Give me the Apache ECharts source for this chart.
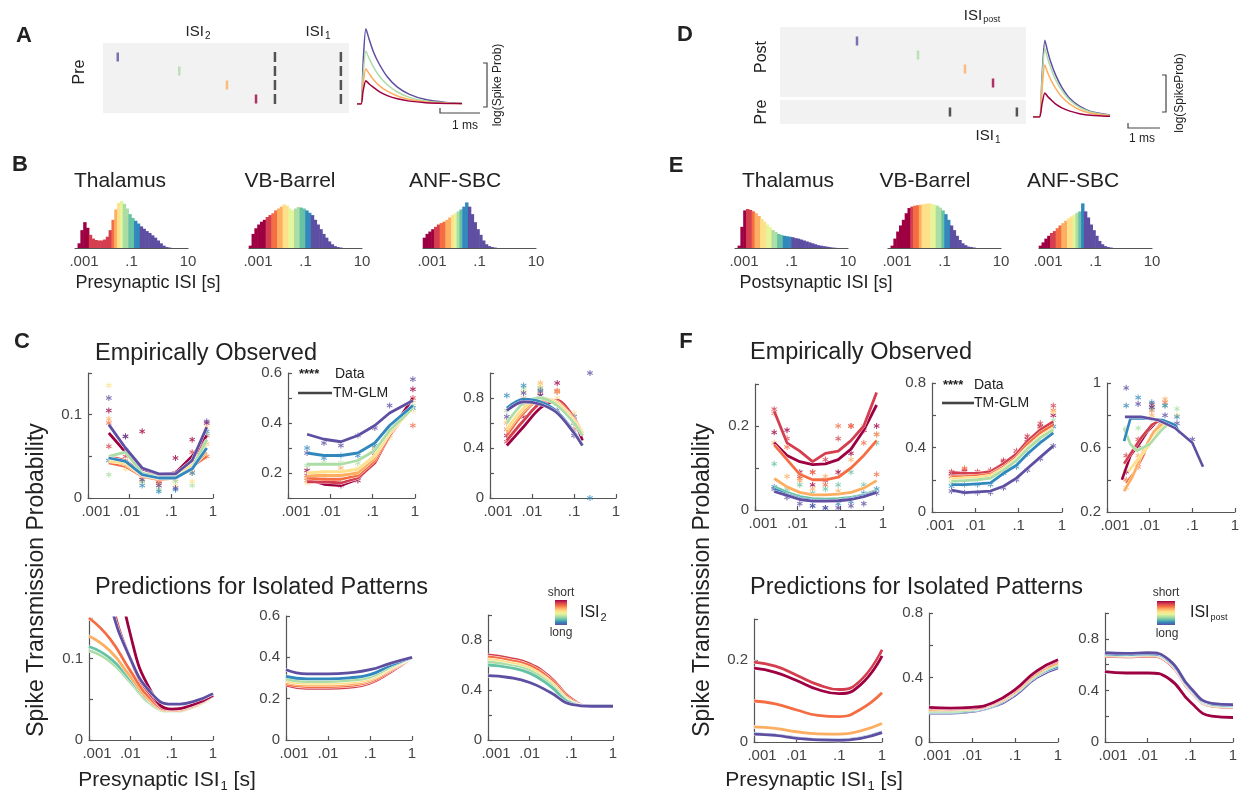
<!DOCTYPE html>
<html>
<head>
<meta charset="utf-8">
<script src="https://cdn.jsdelivr.net/npm/echarts@6/dist/echarts.min.js"></script>
<style>html,body{margin:0;background:#fff}#chart{width:1248px;height:795px}</style>
</head>
<body>
<div id="chart"></div>
<script>
// palette: short ISI (red) -> long ISI (purple)
var spectral = ['#9e0142','#d53e4f','#f46d43','#fdae61','#fee08b','#e6f598','#abdda4','#66c2a5','#3288bd','#5e4fa2'];
var FONT = '"Liberation Sans", Arial, Helvetica, sans-serif';
var AX = '#555', LAB = '#444', TXT = '#222';

// ---------- A / D : spike rasters and PSP shapes ----------
var rasterRows = [1, 2, 3, 4];
var aSpikeT = [6, 31, 50.4, 62.2];
var dSpikeT = [31.3, 56.1, 75.2, 86.6];
var spikeColors = [9, 6, 3, 0];
var aPreT = [69.9, 96.7];
var dPreT = [69.1, 96.3];

var pspTA = [0, 0.1, 0.15, 0.22, 0.3, 0.4, 0.55, 0.75, 1.0, 1.3, 1.7, 2.2, 2.6];
var pspA = [
  [0, 0, 0.5, 0.94, 0.81, 0.66, 0.5, 0.34, 0.21, 0.12, 0.055, 0.02, 0.01],
  [0, 0, 0.35, 0.66, 0.57, 0.47, 0.35, 0.24, 0.15, 0.083, 0.038, 0.015, 0.007],
  [0, 0, 0.24, 0.44, 0.38, 0.31, 0.23, 0.16, 0.1, 0.055, 0.026, 0.01, 0.005],
  [0, 0, 0.16, 0.29, 0.25, 0.21, 0.155, 0.105, 0.065, 0.036, 0.017, 0.007, 0.003]
];
var pspTD = [0, 0.2, 0.28, 0.37, 0.45, 0.55, 0.7, 0.9, 1.15, 1.45, 1.8, 2.4];
var pspD = [
  [0, 0, 0.5, 0.96, 0.83, 0.69, 0.53, 0.37, 0.23, 0.135, 0.07, 0.024],
  [0, 0, 0.45, 0.86, 0.74, 0.62, 0.47, 0.33, 0.21, 0.12, 0.064, 0.021],
  [0, 0, 0.34, 0.65, 0.56, 0.47, 0.36, 0.25, 0.16, 0.09, 0.048, 0.016],
  [0, 0, 0.16, 0.3, 0.26, 0.22, 0.165, 0.115, 0.073, 0.042, 0.022, 0.008]
];

// ---------- B / E : ISI histograms (log10 ISI bins) ----------
var histX = [-2.95,-2.85,-2.75,-2.65,-2.55,-2.45,-2.35,-2.25,-2.15,-2.05,
             -1.95,-1.85,-1.75,-1.65,-1.55,-1.45,-1.35,-1.25,-1.15,-1.05,
             -0.95,-0.85,-0.75,-0.65,-0.55,-0.45,-0.35,-0.25,-0.15,-0.05,
             0.05,0.15,0.25,0.35,0.45,0.55,0.65,0.75,0.85,0.95];
var bThal = [0,0.1,0.38,0.55,0.43,0.28,0.2,0.17,0.16,0.16, 0.18,0.24,0.38,0.6,0.82,0.96,1.0,0.94,0.84,0.72,
             0.64,0.58,0.52,0.46,0.41,0.36,0.32,0.27,0.22,0.16, 0.1,0.05,0.02,0.01,0,0,0,0,0,0];
var bVB   = [0.05,0.3,0.42,0.5,0.56,0.6,0.66,0.7,0.74,0.8, 0.84,0.88,0.93,0.9,0.84,0.8,0.84,0.87,0.86,0.84,
             0.8,0.75,0.7,0.6,0.5,0.4,0.3,0.22,0.14,0.08, 0.04,0.02,0.01,0,0,0,0,0,0,0];
var bANF  = [0.22,0.3,0.35,0.4,0.45,0.5,0.53,0.56,0.6,0.65, 0.7,0.74,0.78,0.82,0.88,0.97,0.88,0.72,0.55,0.4,
             0.28,0.16,0.08,0.04,0.02,0.01,0,0,0,0, 0,0,0,0,0,0,0,0,0,0];
var eThal = [0,0.05,0.45,0.8,0.83,0.81,0.78,0.74,0.68,0.62, 0.56,0.5,0.44,0.38,0.34,0.3,0.28,0.26,0.25,0.24,
             0.23,0.21,0.2,0.18,0.16,0.14,0.12,0.1,0.08,0.06, 0.05,0.04,0.03,0.02,0.01,0.005,0,0,0,0];
var eVB   = [0,0.05,0.2,0.35,0.48,0.6,0.74,0.85,0.88,0.9, 0.91,0.92,0.93,0.94,0.95,0.94,0.92,0.9,0.86,0.8,
             0.72,0.6,0.48,0.38,0.26,0.17,0.1,0.06,0.03,0.02, 0.01,0,0,0,0,0,0,0,0,0];
var eANF  = [0.05,0.12,0.2,0.26,0.32,0.36,0.42,0.48,0.53,0.58, 0.63,0.67,0.71,0.75,0.78,0.95,0.78,0.65,0.5,0.38,
             0.26,0.15,0.08,0.04,0.02,0.01,0,0,0,0, 0,0,0,0,0,0,0,0,0,0];
// colour band boundaries (log10 s)
var bThalEdges = [-2.5,-1.7,-1.6,-1.5,-1.4,-1.3,-1.1,-0.9,-0.7];
var bVBEdges   = [-2.4,-2.2,-2.0,-1.8,-1.6,-1.4,-1.2,-1.0,-0.8];
var bANFEdges  = [-2.6,-2.4,-2.2,-2.0,-1.9,-1.8,-1.7,-1.6,-1.4];
var eThalEdges = [-2.6,-2.4,-2.3,-2.1,-1.9,-1.7,-1.5,-1.3,-1.0];
var eVBEdges   = [-2.2,-2.1,-1.9,-1.8,-1.5,-1.3,-1.1,-1.0,-0.8];
var eANFEdges  = [-2.6,-2.4,-2.2,-2.0,-1.8,-1.7,-1.6,-1.5,-1.4];

// ---------- C : empirically observed (presynaptic ISI2 groups) ----------
var xC1 = [-2.5,-2.1,-1.7,-1.3,-0.9,-0.5,-0.15];
var c1Colors = [0,1,2,3,4,6,8,9];
var c1Lines = [
  [0.078,0.055,0.035,0.028,0.03,0.05,0.075],
  [0.05,0.045,0.03,0.026,0.028,0.045,0.07],
  [0.042,0.038,0.026,0.022,0.024,0.038,0.05],
  [0.046,0.04,0.027,0.023,0.024,0.038,0.055],
  [0.044,0.042,0.028,0.024,0.025,0.04,0.065],
  [0.05,0.055,0.03,0.025,0.025,0.036,0.07],
  [0.048,0.044,0.028,0.024,0.024,0.035,0.06],
  [0.088,0.06,0.036,0.029,0.029,0.045,0.085]
];
var c1Dots = [
  [0.105,0.074,0.08,0.02,0.048,0.07,0.09],
  [0.062,0.05,0.025,0.02,0.03,0.055,0.075],
  [0.09,0.04,0.022,0.018,0.025,0.035,0.05],
  [0.095,0.045,0.025,0.015,0.022,0.03,0.065],
  [0.135,0.035,0.02,0.022,0.015,0.02,0.085],
  [0.028,0.045,0.02,0.01,0.02,0.015,0.075],
  [0.045,0.058,0.015,0.008,0.01,0.03,0.08],
  [0.12,0.074,0.022,0.015,0.012,0.04,0.092]
];
var xC2 = [-2.55,-2.15,-1.75,-1.35,-0.95,-0.6,-0.05];
var c2Colors = [0,1,2,3,4,6,8,9];
var c2Lines = [
  [0.175,0.155,0.15,0.175,0.25,0.36,0.5],
  [0.165,0.165,0.16,0.18,0.24,0.35,0.47],
  [0.18,0.175,0.175,0.19,0.25,0.35,0.47],
  [0.19,0.19,0.19,0.2,0.26,0.36,0.46],
  [0.2,0.205,0.205,0.215,0.27,0.36,0.46],
  [0.235,0.235,0.235,0.25,0.29,0.37,0.46],
  [0.28,0.27,0.27,0.28,0.32,0.39,0.47],
  [0.355,0.335,0.325,0.35,0.39,0.44,0.49]
];
var c2Dots = [
  [0.21,0.17,0.15,0.17,0.29,0.36,0.535],
  [0.19,0.16,0.17,0.19,0.28,0.36,0.5],
  [0.17,0.18,0.19,0.2,0.27,0.37,0.39],
  [0.18,0.2,0.22,0.21,0.3,0.37,0.49],
  [0.16,0.19,0.2,0.22,0.25,0.34,0.45],
  [0.23,0.24,0.24,0.24,0.3,0.35,0.47],
  [0.3,0.26,0.27,0.27,0.31,0.38,0.46],
  [0.28,0.32,0.31,0.35,0.38,0.47,0.575]
];
var xC3 = [-2.6,-2.2,-1.8,-1.4,-1.0,-0.8];
var xC3Dots = [-2.6,-2.2,-1.8,-1.4,-1.0,-0.62];
var c3Colors = [0,1,2,3,4,6,8,9];
var c3Lines = [
  [0.42,0.57,0.72,0.78,0.62,0.46],
  [0.46,0.62,0.76,0.78,0.64,0.5],
  [0.5,0.68,0.79,0.77,0.63,0.52],
  [0.53,0.7,0.79,0.76,0.62,0.52],
  [0.55,0.72,0.8,0.76,0.62,0.52],
  [0.6,0.76,0.8,0.74,0.6,0.5],
  [0.72,0.79,0.77,0.69,0.53,0.42],
  [0.7,0.77,0.75,0.68,0.52,0.42]
];
var c3Dots = [
  [0.5,0.65,0.82,0.92,0.6,null],
  [0.45,0.7,0.85,0.85,0.62,null],
  [0.55,0.75,0.88,0.86,0.55,null],
  [0.6,0.8,0.92,0.85,0.65,null],
  [0.62,0.85,0.9,0.8,0.68,null],
  [0.7,0.88,0.88,0.78,0.6,null],
  [0.82,0.9,0.86,0.75,0.65,0.0],
  [0.65,0.84,0.82,0.7,0.5,1.0]
];

// ---------- C : predictions for isolated patterns ----------
var xPred = [-3,-2.5,-2,-1.5,-1,-0.5,0];
var c4Colors = [6,7,3,2,1,0,9];
var c4Lines = [
  [0.11,0.097,0.071,0.044,0.035,0.04,0.054],
  [0.115,0.101,0.074,0.046,0.036,0.041,0.055],
  [0.128,0.11,0.078,0.047,0.036,0.041,0.054],
  [0.15,0.125,0.085,0.05,0.037,0.042,0.055],
  [0.3,0.18,0.1,0.055,0.038,0.043,0.055],
  [0.4,0.26,0.13,0.06,0.038,0.043,0.055],
  [0.28,0.17,0.1,0.058,0.044,0.047,0.057]
];
var c5Colors = [1,2,3,4,6,8,9];
var c5Lines = [
  [0.265,0.25,0.25,0.255,0.275,0.33,0.4],
  [0.272,0.258,0.258,0.263,0.282,0.336,0.4],
  [0.279,0.266,0.266,0.271,0.289,0.342,0.4],
  [0.286,0.274,0.274,0.279,0.296,0.348,0.4],
  [0.295,0.283,0.283,0.288,0.304,0.354,0.4],
  [0.308,0.296,0.296,0.301,0.316,0.362,0.4],
  [0.34,0.32,0.32,0.325,0.34,0.372,0.4]
];
var c6Colors = [1,2,4,6,7,9];
var c6Lines = [
  [0.68,0.655,0.61,0.5,0.33,0.27,0.27],
  [0.665,0.64,0.595,0.485,0.32,0.27,0.27],
  [0.645,0.62,0.575,0.465,0.31,0.27,0.27],
  [0.625,0.6,0.555,0.445,0.3,0.27,0.27],
  [0.6,0.58,0.535,0.43,0.295,0.27,0.27],
  [0.515,0.5,0.46,0.38,0.285,0.27,0.27]
];

// ---------- F : empirically observed (postsynaptic ISI groups) ----------
var xF1 = [-2.55,-2.25,-1.95,-1.65,-1.35,-1.05,-0.75,-0.45,-0.15];
var f1Colors = [0,1,2,3,7,8,9];
var f1Lines = [
  [0.16,0.13,0.115,0.108,0.11,0.12,0.145,0.19,0.25],
  [0.235,0.16,0.14,0.115,0.135,0.14,0.165,0.2,0.28],
  [0.155,0.12,0.085,0.072,0.072,0.078,0.1,0.13,0.165],
  [0.075,0.055,0.042,0.036,0.036,0.038,0.042,0.052,0.07],
  [0.055,0.042,0.032,0.027,0.026,0.027,0.03,0.036,0.047],
  [0.05,0.037,0.027,0.023,0.022,0.023,0.027,0.034,0.044],
  [0.044,0.035,0.025,0.021,0.021,0.022,0.025,0.032,0.042]
];
var f1Dots = [
  [0.185,0.19,0.09,0.06,0.07,0.09,0.135,0.19,0.2],
  [0.24,0.17,0.08,0.09,0.12,0.17,0.2,0.19,0.18],
  [0.23,0.15,0.075,0.09,0.06,0.2,0.2,0.16,0.085],
  [0.16,0.08,0.07,0.05,0.08,0.045,0.12,0.2,0.18],
  [0.11,0.05,0.06,0.04,0.05,0.06,0.09,0.06,0.16],
  [0.055,0.04,0.03,0.01,0.005,0.015,0.02,0.04,0.05],
  [0.05,0.03,0.015,0.01,0.005,0.005,0.01,0.015,0.04]
];
var xF2 = [-2.55,-2.25,-1.95,-1.65,-1.35,-1.05,-0.8,-0.5,-0.2];
var f2Colors = [0,1,2,4,6,8,9];
var f2Lines = [
  [0.235,0.23,0.23,0.24,0.29,0.35,0.43,0.5,0.55],
  [0.245,0.24,0.24,0.25,0.3,0.36,0.44,0.51,0.56],
  [0.22,0.22,0.225,0.235,0.28,0.34,0.42,0.49,0.54],
  [0.205,0.21,0.215,0.225,0.27,0.33,0.4,0.47,0.52],
  [0.19,0.195,0.2,0.21,0.26,0.32,0.39,0.46,0.51],
  [0.17,0.17,0.175,0.18,0.24,0.29,0.36,0.43,0.49],
  [0.135,0.12,0.125,0.13,0.16,0.21,0.27,0.34,0.41]
];
var f2Dots = [
  [0.24,0.25,0.24,0.25,0.31,0.36,0.45,0.53,0.6],
  [0.25,0.26,0.25,0.26,0.32,0.38,0.47,0.55,0.66],
  [0.22,0.27,0.24,0.25,0.29,0.35,0.43,0.52,0.63],
  [0.2,0.22,0.23,0.24,0.28,0.33,0.41,0.5,0.62],
  [0.18,0.2,0.21,0.22,0.26,0.31,0.39,0.47,0.57],
  [0.16,0.17,0.17,0.17,0.24,0.28,0.36,0.44,0.53],
  [0.13,0.12,0.12,0.12,0.15,0.2,0.26,0.33,0.41]
];
var f3Colors = [0,1,2,3,4,6,8,9];
var f3Lines = [
  [[-2.65,0.4],[-2.45,0.55],[-2.25,0.62],[-2.05,0.7],[-1.8,0.77]],
  [[-2.6,0.5],[-2.4,0.58],[-2.2,0.66],[-1.95,0.74],[-1.75,0.77]],
  [[-2.55,0.38],[-2.35,0.45],[-2.15,0.55],[-1.95,0.68],[-1.7,0.76]],
  [[-2.6,0.33],[-2.4,0.42],[-2.15,0.58],[-1.9,0.7],[-1.65,0.76]],
  [[-2.5,0.45],[-2.3,0.52],[-2.05,0.6],[-1.8,0.7],[-1.6,0.75]],
  [[-2.6,0.72],[-2.45,0.62],[-2.3,0.58],[-2.0,0.62],[-1.75,0.7],[-1.55,0.75]],
  [[-2.6,0.64],[-2.45,0.78],[-2.1,0.78],[-1.7,0.77],[-1.4,0.74],[-1.3,0.69]],
  [[-2.58,0.79],[-2.2,0.79],[-1.8,0.77],[-1.4,0.72],[-1.0,0.63],[-0.75,0.48]]
];
var xF3Dots = [-2.55,-2.27,-1.95,-1.64,-1.36,-1.0];
var f3Dots = [
  [0.45,0.6,0.85,null,null,null],
  [0.55,0.65,0.87,null,null,null],
  [0.4,0.48,0.83,0.88,null,null],
  [0.35,0.55,0.8,0.9,null,null],
  [0.5,0.62,0.78,0.86,0.8,null],
  [0.72,0.72,0.84,0.86,0.84,null],
  [0.86,0.91,0.88,0.86,0.79,null],
  [0.97,0.87,0.85,0.8,0.75,0.65]
];

// ---------- F : predictions ----------
var f4Colors = [1,0,2,3,8,9];
var f4Lines = [
  [0.195,0.185,0.163,0.14,0.128,0.15,0.225],
  [0.18,0.17,0.15,0.128,0.118,0.14,0.21],
  [0.1,0.093,0.078,0.065,0.062,0.08,0.12],
  [0.037,0.033,0.025,0.02,0.019,0.027,0.045],
  [0.02,0.017,0.01,0.006,0.005,0.01,0.024],
  [0.019,0.016,0.009,0.005,0.004,0.009,0.023]
];
var f5Colors = [9,8,6,3,1,0];
var f5Lines = [
  [0.18,0.18,0.19,0.22,0.29,0.4,0.46],
  [0.185,0.185,0.195,0.225,0.3,0.41,0.47],
  [0.19,0.19,0.2,0.23,0.305,0.415,0.48],
  [0.2,0.2,0.205,0.235,0.31,0.425,0.49],
  [0.21,0.205,0.21,0.24,0.32,0.435,0.505],
  [0.215,0.21,0.215,0.245,0.325,0.44,0.51]
];
var f6Colors = [1,3,6,8,9,0];
var f6Lines = [
  [0.665,0.66,0.665,0.61,0.395,0.278,0.268],
  [0.672,0.667,0.672,0.617,0.402,0.283,0.273],
  [0.678,0.673,0.678,0.623,0.408,0.288,0.278],
  [0.684,0.679,0.684,0.629,0.414,0.294,0.284],
  [0.692,0.687,0.692,0.637,0.42,0.3,0.29],
  [0.545,0.535,0.535,0.49,0.31,0.2,0.19]
];

// ================= build =================
var decLabel = {'-3': '{f|.001}', '-2': '.01', '-1': '.1', '0': '1', '1': '10'};
var STAR = 'path://M4.2,0L5.8,0L5.8,3.6L8.9,1.8L9.7,3.2L6.6,5L9.7,6.8L8.9,8.2L5.8,6.4L5.8,10L4.2,10L4.2,6.4L1.1,8.2L0.3,6.8L3.4,5L0.3,3.2L1.1,1.8L4.2,3.6Z';
var grids = [], xAxes = [], yAxes = [], series = [];

function addGrid(box, bg) {
  grids.push({left: box[0], top: box[1], width: box[2], height: box[3], containLabel: false,
    outerBoundsMode: 'none', show: !!bg, backgroundColor: bg || 'transparent', borderWidth: 0});
  return grids.length - 1;
}
function hiddenAxes(gi, xr, yr, inv) {
  xAxes.push({gridIndex: gi, type: 'value', min: xr[0], max: xr[1], show: false});
  yAxes.push({gridIndex: gi, type: 'value', min: yr[0], max: yr[1], inverse: !!inv, show: false});
}
function labelStyle(shift) {
  var s = {color: LAB, fontSize: 15, fontFamily: FONT, margin: 6};
  if (shift) s.rich = {f: {color: LAB, fontSize: 15, fontFamily: FONT, padding: [0, 0, 0, shift]}};
  return s;
}
function plotAxes(gi, yMin, yMax, yStep, yLabs) {
  var xl = labelStyle(16);
  xl.formatter = function (v) { return decLabel[Math.round(v)] || ''; };
  var yl = labelStyle();
  yl.formatter = function (v) {
    var r = Math.round(v * 100) / 100;
    return yLabs.indexOf(r) >= 0 ? String(r) : '';
  };
  var line = {show: true, onZero: false, lineStyle: {color: AX, width: 1.2}};
  var tick = {show: true, inside: true, length: 4, lineStyle: {color: AX, width: 1.2}};
  xAxes.push({gridIndex: gi, type: 'value', min: -3, max: 0, interval: 1, axisLine: line, axisTick: tick,
    splitLine: {show: false}, axisLabel: xl});
  yAxes.push({gridIndex: gi, type: 'value', min: yMin, max: yMax, interval: yStep, axisLine: line, axisTick: tick,
    splitLine: {show: false}, axisLabel: yl});
}
function histAxes(gi) {
  var xl = labelStyle(18);
  xl.formatter = function (v) {
    var k = Math.round(v);
    return (k === -3 || k === -1 || k === 1) ? decLabel[k] : '';
  };
  xAxes.push({gridIndex: gi, type: 'value', min: -3, max: 1, interval: 1,
    axisLine: {show: true, onZero: false, lineStyle: {color: AX, width: 1.2}},
    axisTick: {show: false}, splitLine: {show: false}, axisLabel: xl});
  yAxes.push({gridIndex: gi, type: 'value', min: 0, max: 1, show: false});
}
function addHist(gi, vals, edges) {
  series.push({type: 'bar', xAxisIndex: gi, yAxisIndex: gi, barWidth: 3.4, silent: true,
    data: histX.map(function (x, i) {
      var b = 0;
      edges.forEach(function (e) { if (x > e) b++; });
      return {value: [x, vals[i]], itemStyle: {color: spectral[b]}};
    })});
}
function addLines(gi, xs, lines, colors, w, smooth, halo) {
  lines.forEach(function (ys, k) {
    var pts = xs ? ys.map(function (y, i) { return [xs[i], y]; }) : ys;
    series.push({type: 'line', xAxisIndex: gi, yAxisIndex: gi, data: pts, showSymbol: false, smooth: smooth,
      silent: true, z: 3, lineStyle: {color: '#ffffff', width: w + halo}});
    series.push({type: 'line', xAxisIndex: gi, yAxisIndex: gi, data: pts, showSymbol: false, smooth: smooth,
      silent: true, z: 3, lineStyle: {color: spectral[colors[k]], width: w}});
  });
}
function addDots(gi, xs, dots, colors) {
  dots.forEach(function (ys, k) {
    var pts = [];
    ys.forEach(function (y, i) { if (y !== null) pts.push([xs[i], y]); });
    series.push({type: 'scatter', xAxisIndex: gi, yAxisIndex: gi, data: pts, symbol: STAR, symbolSize: 6,
      silent: true, z: 2, itemStyle: {color: spectral[colors[k]], opacity: 0.8}});
  });
}
function addRaster(gi, times, rows, colorOf, size) {
  var pts = [];
  rows.forEach(function (r, ri) {
    times.forEach(function (t, ti) {
      if (colorOf === null) pts.push({value: [t, r], itemStyle: {color: '#2a2a2a'}});
      else if (ti === ri) pts.push({value: [t, r], itemStyle: {color: spectral[colorOf[ri]]}});
    });
  });
  series.push({type: 'scatter', xAxisIndex: gi, yAxisIndex: gi, symbol: 'rect', symbolSize: size,
    silent: true, data: pts});
}
function addPsp(gi, ts, curves) {
  curves.forEach(function (ys, k) {
    series.push({type: 'line', xAxisIndex: gi, yAxisIndex: gi, showSymbol: false, smooth: 0.25, silent: true,
      data: ys.map(function (y, i) { return [ts[i], y]; }),
      lineStyle: {color: spectral[spikeColors[k]], width: 1.5}});
  });
}

// ---- panel A ----
var gA = addGrid([103, 43, 246, 70], '#f2f2f2');
hiddenAxes(gA, [0, 100], [0, 5], true);
addRaster(gA, aSpikeT, rasterRows, spikeColors, [2.5, 9]);
addRaster(gA, aPreT, rasterRows, null, [2.5, 10]);
var gAp = addGrid([357, 24, 105, 80]);
hiddenAxes(gAp, [0, 2.6], [0, 1]);
addPsp(gAp, pspTA, pspA);

// ---- panel D ----
var gDpost = addGrid([780, 27, 246, 70], '#f2f2f2');
hiddenAxes(gDpost, [0, 100], [0, 5], true);
addRaster(gDpost, dSpikeT, rasterRows, spikeColors, [2.5, 9]);
var gDpre = addGrid([780, 100, 246, 24], '#f2f2f2');
hiddenAxes(gDpre, [0, 100], [0, 2], true);
addRaster(gDpre, dPreT, [1], null, [2.5, 9]);
var gDp = addGrid([1033, 37, 77, 80]);
hiddenAxes(gDp, [0, 2.4], [0, 1]);
addPsp(gDp, pspTD, pspD);

// ---- panels B / E ----
[[75, bThal, bThalEdges], [249, bVB, bVBEdges], [423, bANF, bANFEdges],
 [735, eThal, eThalEdges], [888, eVB, eVBEdges], [1039, eANF, eANFEdges]].forEach(function (h) {
  var gi = addGrid([h[0], 201, 113, 47]);
  histAxes(gi);
  addHist(gi, h[1], h[2]);
});

// ---- panel C ----
var g;
g = addGrid([88, 373, 125, 125]); plotAxes(g, 0, 0.15, 0.05, [0, 0.1]);
addDots(g, xC1, c1Dots, c1Colors); addLines(g, xC1, c1Lines, c1Colors, 2.8, false, 0.6);
g = addGrid([288, 373, 127, 125]); plotAxes(g, 0.1, 0.6, 0.1, [0.2, 0.4, 0.6]);
addDots(g, xC2, c2Dots, c2Colors); addLines(g, xC2, c2Lines, c2Colors, 2.8, false, 0.6);
g = addGrid([490, 373, 126, 125]); plotAxes(g, 0, 1, 0.2, [0, 0.4, 0.8]);
addDots(g, xC3Dots, c3Dots, c3Colors); addLines(g, xC3, c3Lines, c3Colors, 2.8, 0.3, 0.6);
g = addGrid([89, 618, 124, 122]); plotAxes(g, 0, 0.15, 0.05, [0, 0.1]);
addLines(g, xPred, c4Lines, c4Colors, 2.8, true, 0.8);
g = addGrid([286, 616, 126, 124]); plotAxes(g, 0, 0.6, 0.2, [0, 0.2, 0.4, 0.6]);
addLines(g, xPred, c5Lines, c5Colors, 2.8, true, 0.8);
g = addGrid([488, 615, 125, 125]); plotAxes(g, 0, 1, 0.2, [0, 0.4, 0.8]);
addLines(g, xPred, c6Lines, c6Colors, 2.8, true, 0.8);

// ---- panel F ----
g = addGrid([755, 384, 128, 126]); plotAxes(g, 0, 0.3, 0.1, [0, 0.2]);
addDots(g, xF1, f1Dots, f1Colors); addLines(g, xF1, f1Lines, f1Colors, 2.8, false, 0.6);
g = addGrid([932, 383, 130, 129]); plotAxes(g, 0, 0.8, 0.2, [0, 0.4, 0.8]);
addDots(g, xF2, f2Dots, f2Colors); addLines(g, xF2, f2Lines, f2Colors, 2.8, false, 0.6);
g = addGrid([1107, 383, 128, 129]); plotAxes(g, 0.2, 1, 0.2, [0.2, 0.6, 1]);
addDots(g, xF3Dots, f3Dots, f3Colors); addLines(g, null, f3Lines, f3Colors, 2.6, false, 0.6);
g = addGrid([754, 619, 128, 123]); plotAxes(g, 0, 0.3, 0.1, [0, 0.2]);
addLines(g, xPred, f4Lines, f4Colors, 2.8, true, 0.8);
g = addGrid([929, 613, 129, 129]); plotAxes(g, 0, 0.8, 0.2, [0, 0.4, 0.8]);
addLines(g, xPred, f5Lines, f5Colors, 2.8, true, 0.8);
g = addGrid([1105, 613, 128, 129]); plotAxes(g, 0, 1, 0.2, [0, 0.4, 0.8]);
addLines(g, xPred, f6Lines, f6Colors, 2.8, true, 0.8);

// ---- text and decorations ----
function txt(x, y, text, size, opt) {
  opt = opt || {};
  var al = opt.align || 'center';
  return {type: 'text', x: x, y: y, rotation: opt.rot || 0, silent: true, z: 10,
    style: {text: text, fontSize: size, fontFamily: FONT, fontWeight: opt.bold ? 'bold' : 'normal',
      fill: opt.color || TXT, align: al, verticalAlign: 'middle', textAlign: al, textVerticalAlign: 'middle',
      rich: opt.rich}};
}
function subRich(big, small) {
  return {
    m: {fontSize: big, fontFamily: FONT, fill: TXT, color: TXT},
    s: {fontSize: small, fontFamily: FONT, fill: TXT, color: TXT, padding: [Math.round(big * 0.55), 0, 0, 1]}
  };
}
function poly(points, w) {
  return {type: 'polyline', silent: true, z: 10, shape: {points: points},
    style: {stroke: '#444', lineWidth: w || 1.2, fill: null}};
}
var barStops = spectral.map(function (c, i) { return {offset: i / 9, color: c}; });
function colorBar(x, y, w, h) {
  return {type: 'rect', silent: true, z: 10, shape: {x: x, y: y, width: w, height: h},
    style: {fill: new echarts.graphic.LinearGradient(0, 0, 0, 1, barStops)}};
}

var gfx = [
  // A
  txt(24, 36, 'A', 22, {bold: true}),
  txt(198, 32, '{m|ISI}{s|2}', 15, {rich: subRich(15, 10)}),
  txt(318, 32, '{m|ISI}{s|1}', 15, {rich: subRich(15, 10)}),
  txt(80, 72, 'Pre', 16, {rot: Math.PI / 2}),
  poly([[440, 108], [440, 113], [480, 113]]),
  txt(465, 126, '1 ms', 12),
  poly([[483, 63], [487, 63], [487, 107], [483, 107]]),
  txt(498, 85, 'log(Spike Prob)', 12, {rot: Math.PI / 2}),
  // D
  txt(685, 35, 'D', 22, {bold: true}),
  txt(982, 16, '{m|ISI}{s|post}', 15, {rich: subRich(15, 9)}),
  txt(762, 57, 'Post', 16, {rot: Math.PI / 2}),
  txt(762, 112, 'Pre', 16, {rot: Math.PI / 2}),
  txt(988, 136, '{m|ISI}{s|1}', 15, {rich: subRich(15, 10)}),
  poly([[1128, 123], [1128, 128], [1160, 128]]),
  txt(1142, 139, '1 ms', 12),
  poly([[1162, 75], [1166, 75], [1166, 112], [1162, 112]]),
  txt(1180, 93, 'log(SpikeProb)', 12, {rot: Math.PI / 2}),
  // B / E
  txt(20, 165, 'B', 22, {bold: true}),
  txt(120, 181, 'Thalamus', 21),
  txt(290, 181, 'VB-Barrel', 21),
  txt(455, 181, 'ANF-SBC', 21),
  txt(148, 283, 'Presynaptic ISI [s]', 18),
  txt(676, 166, 'E', 22, {bold: true}),
  txt(788, 181, 'Thalamus', 21),
  txt(925, 181, 'VB-Barrel', 21),
  txt(1073, 181, 'ANF-SBC', 21),
  txt(816, 283, 'Postsynaptic ISI [s]', 18),
  // C
  txt(22, 342, 'C', 22, {bold: true}),
  txt(95, 354, 'Empirically Observed', 23.5, {align: 'left'}),
  txt(95, 588, 'Predictions for Isolated Patterns', 23.5, {align: 'left'}),
  txt(37, 580, 'Spike Transmission Probability', 23, {rot: Math.PI / 2}),
  txt(167, 780, '{m|Presynaptic ISI}{s|1}{m| [s]}', 21, {rich: subRich(21, 13)}),
  txt(299, 374, '****', 13, {align: 'left', bold: true}),
  txt(335, 374, 'Data', 14, {align: 'left'}),
  poly([[298, 393], [332, 393]], 2.6),
  txt(333, 393, 'TM-GLM', 14, {align: 'left'}),
  colorBar(555, 600, 12, 25),
  txt(561, 593, 'short', 12, {color: '#333'}),
  txt(561, 633, 'long', 12, {color: '#333'}),
  txt(580, 613, '{m|ISI}{s|2}', 16, {align: 'left', rich: subRich(16, 11)}),
  // F
  txt(686, 342, 'F', 22, {bold: true}),
  txt(750, 353, 'Empirically Observed', 23.5, {align: 'left'}),
  txt(750, 588, 'Predictions for Isolated Patterns', 23.5, {align: 'left'}),
  txt(703, 580, 'Spike Transmission Probability', 23, {rot: Math.PI / 2}),
  txt(814, 780, '{m|Presynaptic ISI}{s|1}{m| [s]}', 21, {rich: subRich(21, 13)}),
  txt(943, 385, '****', 13, {align: 'left', bold: true}),
  txt(974, 385, 'Data', 14, {align: 'left'}),
  poly([[942, 403], [974, 403]], 2.6),
  txt(974, 403, 'TM-GLM', 14, {align: 'left'}),
  colorBar(1157, 601, 18, 24),
  txt(1166, 593, 'short', 12, {color: '#333'}),
  txt(1167, 634, 'long', 12, {color: '#333'}),
  txt(1190, 613, '{m|ISI}{s|post}', 16, {align: 'left', rich: subRich(16, 9)})
];

var chart = echarts.init(document.getElementById('chart'), null, {renderer: 'canvas'});
chart.setOption({
  animation: false,
  backgroundColor: '#ffffff',
  grid: grids,
  xAxis: xAxes,
  yAxis: yAxes,
  series: series,
  graphic: {elements: gfx}
});
</script>
</body>
</html>
